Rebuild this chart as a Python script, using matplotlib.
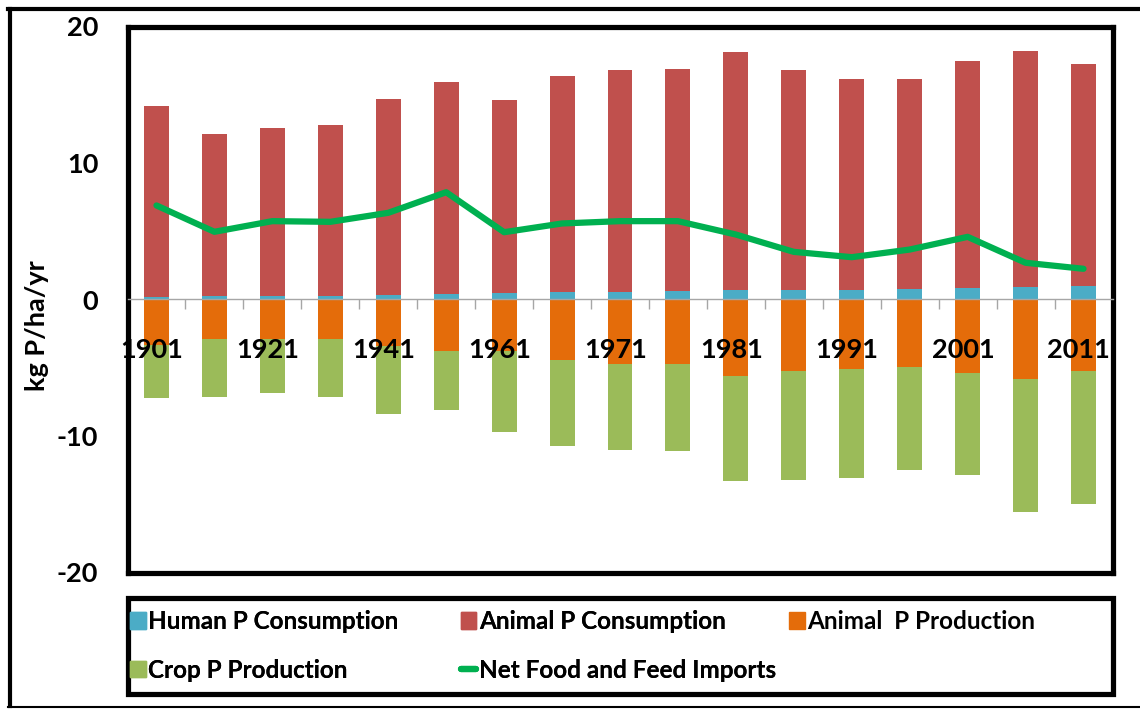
import numpy as np
import matplotlib
matplotlib.use('Agg')
from matplotlib import pyplot as plt
from matplotlib.patches import Rectangle, Patch
from matplotlib.lines import Line2D

# years of the bars (every other one is labelled)
years = ['1901', '1911', '1921', '1931', '1941', '1951', '1961', '1966', '1971',
         '1976', '1981', '1986', '1991', '1996', '2001', '2006', '2011']
human_cons = [0.17, 0.24, 0.24, 0.24, 0.32, 0.39, 0.46, 0.54, 0.56,
              0.61, 0.66, 0.68, 0.73, 0.76, 0.83, 0.93, 0.98]
animal_cons = [13.97, 11.92, 12.29, 12.58, 14.38, 15.58, 14.17, 15.80, 16.22,
               16.24, 17.44, 16.10, 15.44, 15.36, 16.61, 17.31, 16.24]
animal_prod = [-3.30, -2.86, -2.86, -2.93, -3.42, -3.79, -3.80, -4.40, -4.76,
               -4.69, -5.64, -5.27, -5.08, -4.98, -5.42, -5.79, -5.27]
crop_prod = [-3.93, -4.29, -3.98, -4.22, -4.98, -4.32, -5.92, -6.34, -6.28,
             -6.42, -7.67, -7.97, -7.99, -7.52, -7.45, -9.79, -9.72]
net_imports = [6.89, 4.96, 5.74, 5.69, 6.35, 7.86, 4.93, 5.57, 5.74,
               5.74, 4.76, 3.49, 3.10, 3.66, 4.59, 2.69, 2.25]

C_HUMAN = '#4BACC6'
C_ANIMAL = '#C0504D'
C_APROD = '#E46C0A'
C_CROP = '#9BBB59'
C_NET = '#00B050'

FONT = 'Lato'
W, H = 1140, 709


def fx(px):
    return px / W


def fy(py):
    return 1 - py / H


def main():
    plt.rcParams['font.family'] = [FONT, 'DejaVu Sans']
    plt.rcParams['font.weight'] = 'bold'
    plt.rcParams['axes.unicode_minus'] = False

    fig = plt.figure(figsize=(W / 100, H / 100), dpi=100)
    ax = fig.add_axes([fx(127.5), fy(572.5), fx(1112.5) - fx(127.5), fy(26.5) - fy(572.5)])

    x = np.arange(len(years))
    hc = np.array(human_cons)
    ac = np.array(animal_cons)
    ap = np.array(animal_prod)
    cp = np.array(crop_prod)
    bw = 0.43

    ax.bar(x, hc, bw, color=C_HUMAN, zorder=2)
    ax.bar(x, ac, bw, bottom=hc, color=C_ANIMAL, zorder=2)
    ax.bar(x, ap, bw, color=C_APROD, zorder=2)
    ax.bar(x, cp, bw, bottom=ap, color=C_CROP, zorder=2)
    ax.plot(x, net_imports, color=C_NET, lw=4.5, solid_capstyle='round',
            solid_joinstyle='round', zorder=4)

    ax.set_xlim(-0.5, len(years) - 0.5)
    ax.set_ylim(-20, 20)
    ax.set_yticks([-20, -10, 0, 10, 20])
    ax.tick_params(axis='y', length=0, pad=21, labelsize=19.5)
    ax.set_xticks([])
    for side in ax.spines.values():
        side.set_linewidth(3.75)
        side.set_color('black')

    # zero axis with category boundary ticks
    sec = ax.secondary_xaxis(0.5)
    sec.set_alignment('bottom')
    sec.set_xticks(np.arange(0.5, len(years) - 0.5, 1))
    sec.tick_params(axis='x', length=7.5, width=1, color='#a6a6a6',
                    direction='out', labelbottom=False, labeltop=False)
    sec.spines['bottom'].set_color('#a6a6a6')
    sec.spines['bottom'].set_linewidth(1)
    sec.set_zorder(3)

    # category labels drawn over the bars
    for i, yr in enumerate(years):
        if i % 2 == 0:
            ax.text(i - 0.08, -3.7, yr, ha='center', va='center',
                    fontsize=19.5, fontweight='bold', zorder=5)

    fig.text(fx(37), fy(326), 'kg P/ha/yr', rotation=90, ha='center', va='center',
             fontsize=19.5, fontweight='bold')

    # legend box
    fig.add_artist(Rectangle((fx(127.5), fy(693.5)), fx(1112.5) - fx(127.5),
                             fy(597.5) - fy(693.5), transform=fig.transFigure,
                             fill=False, lw=3.75, ec='black'))
    leg_kw = dict(loc='upper left', frameon=False, borderpad=0, borderaxespad=0,
                  handlelength=0.65, handleheight=0.65, handletextpad=0.1,
                  labelspacing=1.05,
                  prop={'family': FONT, 'weight': 'bold', 'size': 17.5})
    # first two columns (column-wise order)
    handles = [Patch(color=C_HUMAN), Patch(color=C_CROP), Patch(color=C_ANIMAL),
               Line2D([], [], color=C_NET, lw=4.5, solid_capstyle='round')]
    labels = ['Human P Consumption', 'Crop P Production', 'Animal P Consumption',
              'Net Food and Feed Imports']
    leg1 = fig.legend(handles, labels, ncol=2, columnspacing=2.55,
                      bbox_to_anchor=(fx(130), fy(610)), **leg_kw)
    fig.add_artist(leg1)
    # third column
    fig.legend([Patch(color=C_APROD)], ['Animal  P Production'],
               bbox_to_anchor=(fx(789), fy(610)), **leg_kw)

    # outer figure frame (left, top, bottom)
    fig.add_artist(Line2D([fx(9.5), fx(9.5)], [fy(8.5), fy(706)], color='black', lw=3))
    fig.add_artist(Line2D([fx(8), 1.0], [fy(8.5), fy(8.5)], color='black', lw=3))
    fig.add_artist(Line2D([fx(8), 1.0], [fy(706.5), fy(706.5)], color='black', lw=1.5))

    fig.savefig('out.png', dpi=100)


if __name__ == '__main__':
    main()
